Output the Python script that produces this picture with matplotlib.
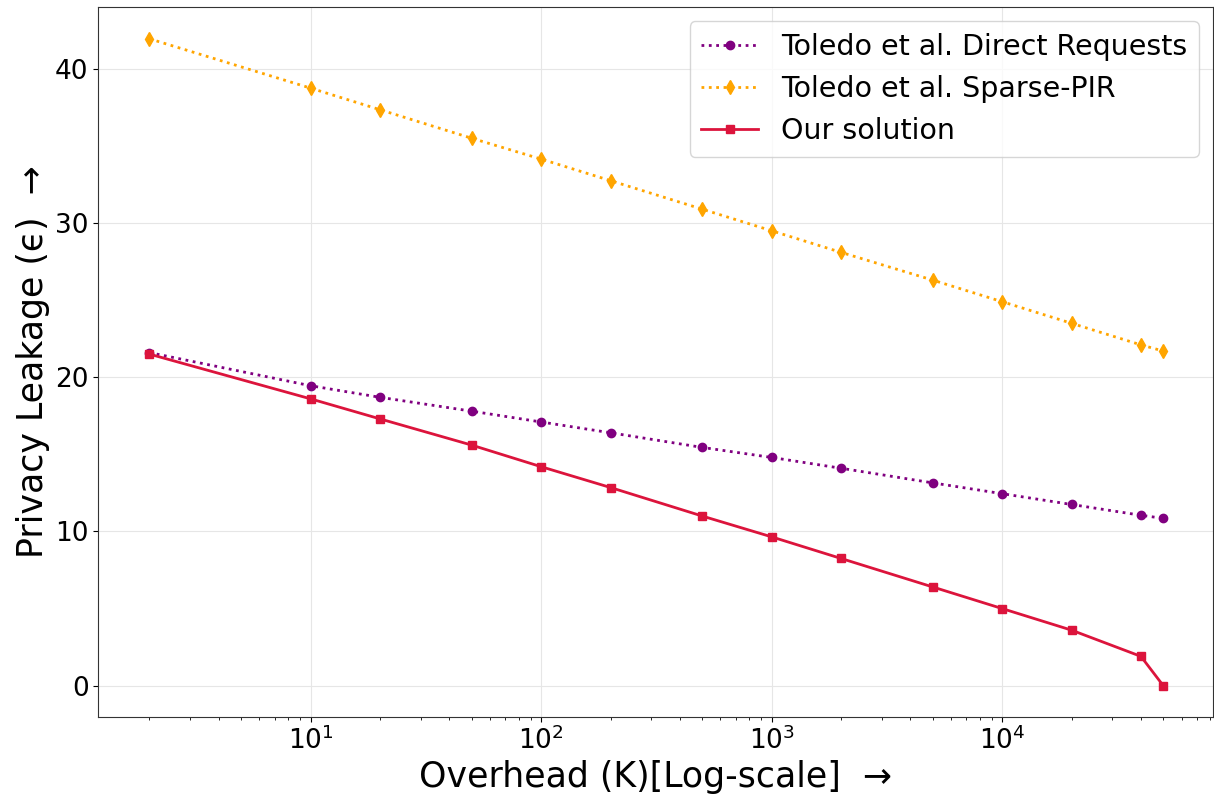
import numpy as np
import matplotlib
matplotlib.use('Agg')
import matplotlib.pyplot as plt

# overhead K values (log x axis)
overhead = [2, 10, 20, 50, 100, 200, 500, 1000, 2000, 5000, 10000, 20000,
            40000, 50000]

# privacy leakage (epsilon) for each scheme
direct_requests = [21.6, 19.45, 18.7, 17.8, 17.1, 16.4, 15.45, 14.8, 14.1,
                   13.15, 12.45, 11.75, 11.05, 10.85]
sparse_pir = [41.95, 38.75, 37.35, 35.5, 34.15, 32.75, 30.9, 29.5, 28.1,
              26.3, 24.9, 23.5, 22.1, 21.7]
our_solution = [21.5, 18.6, 17.3, 15.6, 14.2, 12.85, 11.0, 9.65, 8.25,
                6.4, 5.0, 3.6, 1.9, 0.0]

fig, ax = plt.subplots(figsize=(12.14, 7.97), dpi=100)

ax.plot(overhead, direct_requests, linestyle=':', marker='o', color='purple',
        linewidth=2, markersize=6, label='Toledo et al. Direct Requests')
ax.plot(overhead, sparse_pir, linestyle=':', marker='d', color='orange',
        linewidth=2, markersize=7, label='Toledo et al. Sparse-PIR')
ax.plot(overhead, our_solution, linestyle='-', marker='s', color='crimson',
        linewidth=2, markersize=6, label='Our solution')

ax.set_xscale('log')
ax.set_ylim(-2.0, 44.0)
ax.set_xlim(1.2, 82000)
ax.grid(True, color='#e6e6e6', linewidth=0.8)
ax.tick_params(axis='both', which='major', labelsize=19)
for sp in ax.spines.values():
    sp.set_color('#333333')

ax.set_xlabel('Overhead (K)[Log-scale]  \u2192', fontsize=25)
ax.set_ylabel('Privacy Leakage (\u03f5)  \u2192', fontsize=25)
ax.legend(fontsize=20.5, loc='upper right')

fig.subplots_adjust(left=0.081, right=0.999, top=0.991, bottom=0.101)
fig.savefig('out.png')
